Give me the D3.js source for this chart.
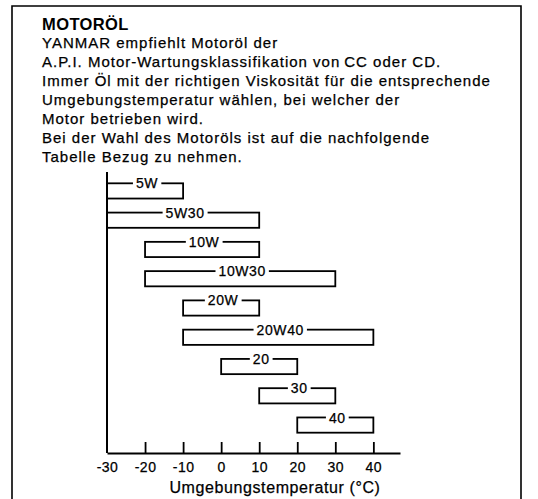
<!DOCTYPE html>
<html>
<head>
<meta charset="utf-8">
<script src="https://cdn.jsdelivr.net/npm/d3@7/dist/d3.min.js"></script>
<style>
  html, body { margin: 0; padding: 0; background: #fff; }
  svg { display: block; }
</style>
</head>
<body>
<script>
// Oil grades and their usable ambient temperature range (°C)
const grades = ["5W", "5W30", "10W", "10W30", "20W", "20W40", "20", "30", "40"];
const tempLow  = [-30, -30, -20, -20, -10, -10,  0, 10, 20];
const tempHigh = [-10,  10,  10,  30,  10,  40, 20, 30, 40];
const tempTicks = [-30, -20, -10, 0, 10, 20, 30, 40];

const title = "MOTORÖL";
const bodyLines = [
  "YANMAR empfiehlt Motoröl der",
  "A.P.I. Motor-Wartungsklassifikation von\u2009CC oder CD.",
  "Immer Öl mit der richtigen Viskosität für die entsprechende",
  "Umgebungstemperatur wählen, bei welcher der",
  "Motor betrieben wird.",
  "Bei der Wahl des Motoröls ist auf die nachfolgende",
  "Tabelle Bezug zu nehmen."
];
const axisTitle = "Umgebungstemperatur (°C)";

const W = 538, H = 499;
const font = "'Liberation Sans', Arial, Helvetica, sans-serif";

const svg = d3.select("body").append("svg")
  .attr("width", W).attr("height", H)
  .style("font-family", font);

svg.append("rect").attr("width", W).attr("height", H).attr("fill", "#fff");

// frame around the whole notice, open at the bottom
svg.append("path")
  .attr("d", "M12,505 L12,6 L521,6 L521,505")
  .attr("fill", "none").attr("stroke", "#000").attr("stroke-width", 1.6);

// heading and explanatory text (slightly heavy print style)
svg.append("text")
  .attr("x", 42).attr("y", 30)
  .attr("font-size", 16.5).attr("font-weight", "bold")
  .attr("letter-spacing", 0.4)
  .text(title);

svg.append("g").selectAll("text").data(bodyLines).join("text")
  .attr("x", 42)
  .attr("y", (d, i) => 48 + i * 19)
  .attr("font-size", 15)
  .attr("letter-spacing", 1)
  .attr("stroke", "#000").attr("stroke-width", 0.25)
  .text(d => d);

// scales
const x = d3.scaleLinear().domain([-30, 47]).range([107, 400]);
const y = d3.scaleBand().domain(grades).range([176, 440]).paddingInner(0.48).paddingOuter(0.25);

const axisY = 453;

// x axis with upward ticks
const xAxis = d3.axisBottom(x)
  .tickValues(tempTicks)
  .tickSizeInner(-11)
  .tickSizeOuter(0)
  .tickPadding(9)
  .tickFormat(d3.format("d"));

const gx = svg.append("g")
  .attr("transform", `translate(0,${axisY})`)
  .call(xAxis);
gx.select(".domain").attr("stroke", "#000").attr("stroke-width", 2);
gx.selectAll(".tick line").attr("stroke", "#000").attr("stroke-width", 1.8)
  .filter(d => d === -30).remove();
gx.selectAll(".tick text")
  .attr("font-size", 14).attr("font-family", font).attr("fill", "#000")
  .attr("letter-spacing", 0.5)
  .attr("stroke", "#000").attr("stroke-width", 0.25)
  .text(d => d < 0 ? "-" + Math.abs(d) : d);

// vertical axis line at -30 °C
svg.append("line")
  .attr("x1", x(-30)).attr("x2", x(-30))
  .attr("y1", 172).attr("y2", axisY)
  .attr("stroke", "#000").attr("stroke-width", 2);

// one box per grade, label sitting in the top edge
const rows = grades.map((g, i) => ({ grade: g, lo: tempLow[i], hi: tempHigh[i] }));

const bars = svg.append("g").selectAll("g").data(rows).join("g");

bars.append("rect")
  .attr("x", d => x(d.lo))
  .attr("y", d => y(d.grade))
  .attr("width", d => x(d.hi) - x(d.lo))
  .attr("height", y.bandwidth())
  .attr("fill", "none")
  .attr("stroke", "#000")
  .attr("stroke-width", 1.8);

const labels = bars.append("text")
  .attr("x", d => (x(d.lo) + x(d.hi)) / 2 + 2)
  .attr("y", d => y(d.grade))
  .attr("dy", "0.36em")
  .attr("text-anchor", "middle")
  .attr("font-size", 14)
  .attr("letter-spacing", 0.6)
  .attr("stroke", "#000").attr("stroke-width", 0.25)
  .text(d => d.grade);

labels.each(function () {
  const bb = this.getBBox();
  d3.select(this.parentNode).insert("rect", "text")
    .attr("x", bb.x - 3).attr("y", bb.y + 2)
    .attr("width", bb.width + 6).attr("height", bb.height - 4)
    .attr("fill", "#fff");
});

// axis title
svg.append("text")
  .attr("x", 275).attr("y", 493)
  .attr("text-anchor", "middle")
  .attr("font-size", 16)
  .attr("letter-spacing", 0.6)
  .attr("stroke", "#000").attr("stroke-width", 0.25)
  .text(axisTitle);
</script>
</body>
</html>
